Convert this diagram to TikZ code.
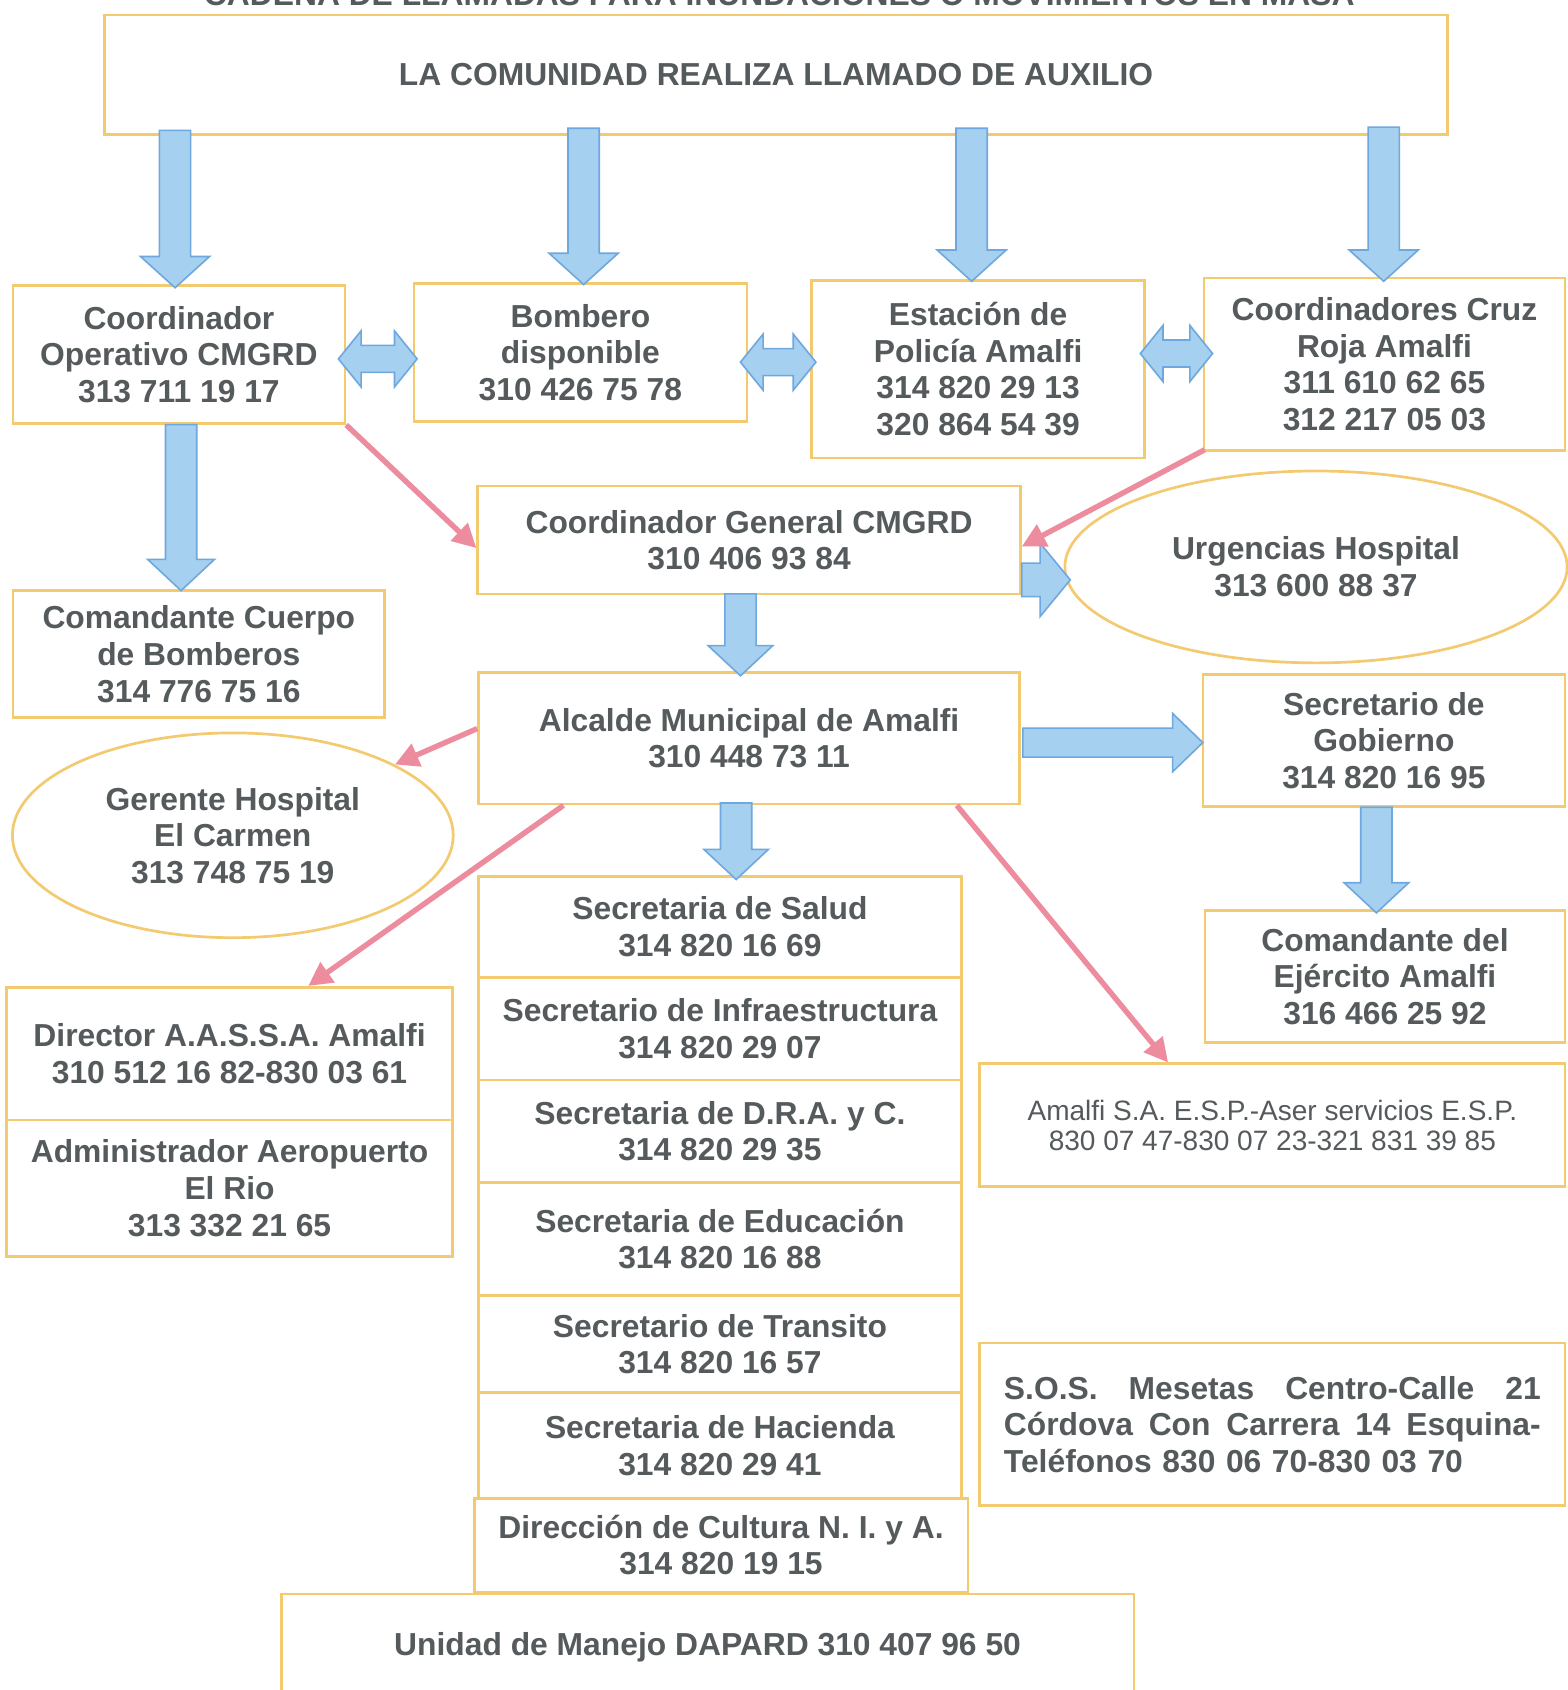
\documentclass[tikz,border=0pt]{standalone}
\usepackage{fontspec}
\setmainfont{Liberation Sans}
\usetikzlibrary{arrows.meta,shapes.geometric}
\definecolor{txt}{RGB}{85,90,92}
\definecolor{bord}{RGB}{243,202,112}
\definecolor{bfill}{RGB}{165,208,240}
\definecolor{bline}{RGB}{110,168,222}
\definecolor{pinkc}{RGB}{236,140,158}
\tikzset{
  box/.style={draw=bord, line width=2.5pt, rectangle, inner sep=0pt, align=center,
    text=txt, font=\bfseries\fontsize{29.5}{34}\selectfont},
  ell/.style={box, ellipse},
  barrow/.style={fill=bfill, draw=bline, line width=1.5pt, line join=miter},
  parrow/.style={draw=pinkc, line width=5pt, -{Triangle[length=22pt,width=22pt]}},
}
% fat down arrow: x, y1, y2, shaft half, head half, head length
\newcommand\bdn[6]{\draw[barrow] ({#1-#4},#2) -- ({#1+#4},#2) -- ({#1+#4},{#3-#6}) -- ({#1+#5},{#3-#6}) -- (#1,#3) -- ({#1-#5},{#3-#6}) -- ({#1-#4},{#3-#6}) -- cycle;}
% fat right arrow: y, x1, x2, shaft half, head half, head length
\newcommand\brt[6]{\draw[barrow] (#2,{#1-#4}) -- ({#3-#6},{#1-#4}) -- ({#3-#6},{#1-#5}) -- (#3,#1) -- ({#3-#6},{#1+#5}) -- ({#3-#6},{#1+#4}) -- (#2,{#1+#4}) -- cycle;}
% fat double arrow: y, x1, x2, shaft half, head half, head length
\newcommand\bdbl[6]{\draw[barrow] (#2,#1) -- ({#2+#6},{#1-#5}) -- ({#2+#6},{#1-#4}) -- ({#3-#6},{#1-#4}) -- ({#3-#6},{#1-#5}) -- (#3,#1) -- ({#3-#6},{#1+#5}) -- ({#3-#6},{#1+#4}) -- ({#2+#6},{#1+#4}) -- ({#2+#6},{#1+#5}) -- cycle;}
\begin{document}
\begin{tikzpicture}[x=1pt,y=-1pt]
\useasboundingbox[fill=white] (0,0) rectangle (1454,1568);

\node[anchor=base, text=txt, font=\bfseries\fontsize{29.5}{34}\selectfont] (title) at (723,5.5)
  {CADENA DE LLAMADAS PARA INUNDACIONES O MOVIMIENTOS EN MASA};

% top box
\node[box, minimum width=1246, minimum height=111] (B0) at (720,69.5)
  {LA COMUNIDAD REALIZA LLAMADO DE AUXILIO};

% row 2
\node[box, minimum width=308, minimum height=128] (B1) at (166,329)
  {Coordinador\\Operativo CMGRD\\313 711 19 17};
\node[box, minimum width=309, minimum height=128] (B2) at (538.5,327)
  {Bombero\\disponible\\310 426 75 78};
\node[box, minimum width=309, minimum height=165] (B3) at (907.5,342.5)
  {Estación de\\Policía Amalfi\\314 820 29 13\\320 864 54 39};
\node[box, minimum width=335, minimum height=160] (B4) at (1284.5,338)
  {Coordinadores Cruz\\Roja Amalfi\\311 610 62 65\\312 217 05 03};

% left column
\node[box, minimum width=345, minimum height=118] (C1) at (184.5,607)
  {Comandante Cuerpo\\de Bomberos\\314 776 75 16};
\node[ell, minimum width=409, minimum height=190] (GH) at (216,775)
  {Gerente Hospital\\El Carmen\\313 748 75 19};
\node[box, minimum width=414, minimum height=123] (DIR) at (213,977.5)
  {Director A.A.S.S.A. Amalfi\\310 512 16 82-830 03 61};
\node[box, minimum width=414, minimum height=127] (ADM) at (213,1102.5)
  {Administrador Aeropuerto\\El Rio\\313 332 21 65};

% centre column
\node[box, minimum width=503.5, minimum height=100] (CG) at (695,501)
  {Coordinador General CMGRD\\310 406 93 84};
\node[box, minimum width=502, minimum height=122] (AL) at (695,685)
  {Alcalde Municipal de Amalfi\\310 448 73 11};
\node[box, minimum width=448, minimum height=94] (S1) at (668,860)
  {Secretaria de Salud\\314 820 16 69};
\node[box, minimum width=448, minimum height=95] (S2) at (668,954.5)
  {Secretario de Infraestructura\\314 820 29 07};
\node[box, minimum width=448, minimum height=95] (S3) at (668,1049.5)
  {Secretaria de D.R.A. y C.\\314 820 29 35};
\node[box, minimum width=448, minimum height=105] (S4) at (668,1149.5)
  {Secretaria de Educación\\314 820 16 88};
\node[box, minimum width=448, minimum height=90] (S5) at (668,1247)
  {Secretario de Transito\\314 820 16 57};
\node[box, minimum width=448, minimum height=98] (S6) at (668,1341)
  {Secretaria de Hacienda\\314 820 29 41};
\node[box, minimum width=458, minimum height=87] (S7) at (669,1433.5)
  {Dirección de Cultura N. I. y A.\\314 820 19 15};
\node[box, minimum width=791, minimum height=99] (UM) at (656.5,1528.5)
  {Unidad de Manejo DAPARD 310 407 96 50};

% right column
\node[ell, minimum width=466, minimum height=178] (UH) at (1221,526)
  {Urgencias Hospital\\313 600 88 37};
\node[box, minimum width=336, minimum height=122] (SG) at (1284,687)
  {Secretario de\\Gobierno\\314 820 16 95};
\node[box, minimum width=334, minimum height=122] (CE) at (1285,906)
  {Comandante del\\Ejército Amalfi\\316 466 25 92};
\node[box, minimum width=543, minimum height=114, font=\fontsize{26}{28}\selectfont] (AM) at (1180.5,1044)
  {Amalfi S.A. E.S.P.-Aser servicios E.S.P.\\830 07 47-830 07 23-321 831 39 85};
\node[box, minimum width=543, minimum height=151, text width=498pt, align=left] (SOS) at (1180.5,1321.5)
  {\makebox[498pt][l]{S.O.S.\hfill Mesetas\hfill Centro-Calle\hfill 21}\\
   \makebox[498pt][l]{Córdova\hfill Con\hfill Carrera\hfill 14\hfill Esquina-}\\
   Teléfonos 830 06 70-830 03 70};

% blue block arrows
\bdn{162.4}{121}{267}{14.5}{32}{29}
\bdn{541.5}{119}{264}{14.5}{32}{29}
\bdn{901.5}{119}{261}{14.5}{32}{29}
\bdn{1283.8}{118}{261}{14.5}{32}{29}
\bdn{168}{394}{548}{14.5}{31}{29}
\bdn{687}{551}{627}{14.5}{30}{28}
\bdn{683}{745}{816}{14.5}{30}{28}
\bdn{1277}{749}{847}{14.5}{30}{28}
\brt{538}{948}{993}{15.5}{34}{28}
\brt{689}{949}{1116}{13.5}{27}{28}
\bdbl{333}{314}{387}{12.5}{26}{21}
\bdbl{336}{687}{757}{12.5}{26}{21}
\bdbl{328}{1058}{1125}{12.5}{26}{21}

% pink connectors
\draw[parrow] (B1.south east) -- ([yshift=-7.5pt]CG.west);
\draw[parrow] ([xshift=2pt,yshift=2pt]B4.south west) -- ([yshift=-6pt]CG.east);
\draw[parrow] ([yshift=9pt]AL.west) -- (GH);
\draw[parrow] ([xshift=80pt]AL.south west) -- ([xshift=73pt]DIR.north);
\draw[parrow] ([xshift=-59.5pt]AL.south east) -- ([xshift=176pt]AM.north west);
\end{tikzpicture}
\end{document}
